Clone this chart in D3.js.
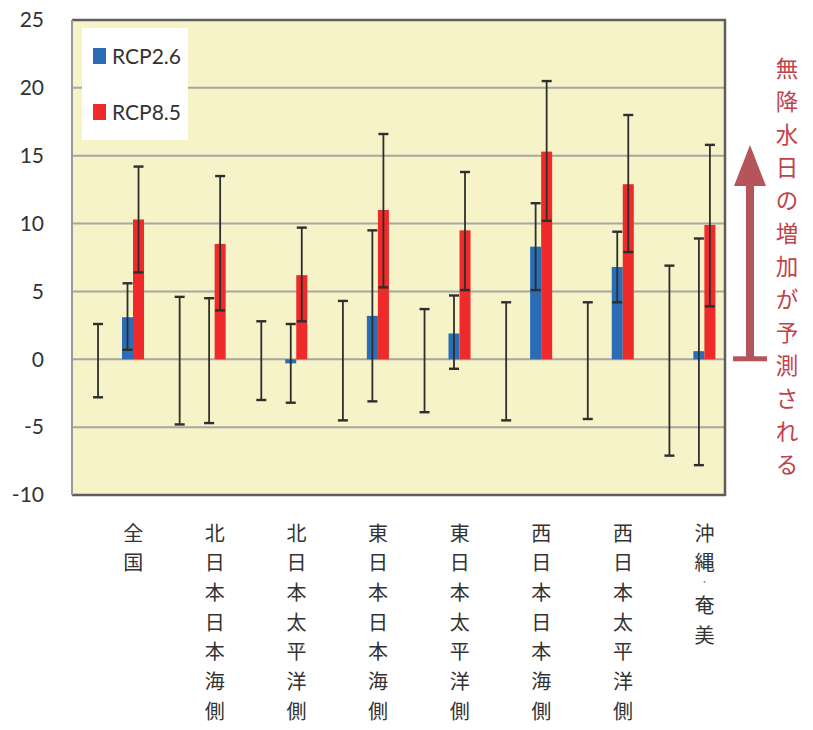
<!DOCTYPE html>
<html>
<head>
<meta charset="utf-8">
<script src="https://cdn.jsdelivr.net/npm/d3@7"></script>
<style>
  body { margin: 0; background: #fff; }
  svg { display: block; }
</style>
</head>
<body>
<div id="chart"></div>
<script>
// regions and values (days)
const regions = ['全国', '北日本日本海側', '北日本太平洋側', '東日本日本海側', '東日本太平洋側', '西日本日本海側', '西日本太平洋側', '沖縄・奄美'];

// present-climate variability range (bar value 0, only the whisker is drawn)
const baseLow  = [-2.8, -4.8, -3.0, -4.5, -3.9, -4.5, -4.4, -7.1];
const baseHigh = [ 2.6,  4.6,  2.8,  4.3,  3.7,  4.2,  4.2,  6.9];

const rcp26     = [3.1,  0.0, -0.3,  3.2,  1.9,  8.3, 6.8,  0.6];
const rcp26Low  = [0.7, -4.7, -3.2, -3.1, -0.7,  5.1, 4.2, -7.8];
const rcp26High = [5.6,  4.5,  2.6,  9.5,  4.7, 11.5, 9.4,  8.9];

const rcp85     = [10.3,  8.5, 6.2, 11.0,  9.5, 15.3, 12.9,  9.9];
const rcp85Low  = [ 6.4,  3.6, 2.8,  5.3,  5.1, 10.2,  7.9,  3.9];
const rcp85High = [14.2, 13.5, 9.7, 16.6, 13.8, 20.5, 18.0, 15.8];

const yTicks = [-10, -5, 0, 5, 10, 15, 20, 25];
const legendItems = ['RCP2.6', 'RCP8.5'];
const note = '無降水日の増加が予測される';

const colors = { rcp26: '#2a6db4', rcp85: '#ee2a2a' };

const width = 813, height = 730;
const plot = { left: 72, right: 725, top: 20, bottom: 495 };

const svg = d3.select('#chart').append('svg')
  .attr('width', width)
  .attr('height', height);

const x = d3.scaleBand().domain(regions).range([plot.left, plot.right]);
const y = d3.scaleLinear().domain([-10, 25]).range([plot.bottom, plot.top]);
const bw = x.bandwidth();
const barW = bw * 0.135;

// position of each series inside a category band
const offBase = bw * 0.319, offBlue = bw * 0.68, offRed = bw * 0.815, offLabel = bw * 0.75;

// plot background
svg.append('rect')
  .attr('x', plot.left).attr('y', plot.top)
  .attr('width', plot.right - plot.left).attr('height', plot.bottom - plot.top)
  .attr('fill', '#f5f3c7');

// gridlines
svg.append('g').selectAll('line')
  .data(yTicks.slice(1, -1))
  .join('line')
  .attr('x1', plot.left).attr('x2', plot.right)
  .attr('y1', d => y(d)).attr('y2', d => y(d))
  .attr('stroke', '#a6a6a2').attr('stroke-width', 2);

// y tick labels
svg.append('g').selectAll('text')
  .data(yTicks)
  .join('text')
  .attr('x', 44).attr('y', d => y(d))
  .attr('dy', '0.35em')
  .attr('text-anchor', 'end')
  .attr('font-family', 'Lato, sans-serif')
  .attr('font-size', 21)
  .attr('fill', '#333')
  .text(d => d);

const rows = regions.map((r, i) => ({
  region: r,
  baseLow: baseLow[i], baseHigh: baseHigh[i],
  rcp26: rcp26[i], rcp26Low: rcp26Low[i], rcp26High: rcp26High[i],
  rcp85: rcp85[i], rcp85Low: rcp85Low[i], rcp85High: rcp85High[i]
}));

// bars
const bars = svg.append('g');
bars.selectAll('rect.b26')
  .data(rows)
  .join('rect')
  .attr('class', 'b26')
  .attr('x', d => x(d.region) + offBlue - barW / 2)
  .attr('width', barW)
  .attr('y', d => y(Math.max(0, d.rcp26)))
  .attr('height', d => Math.abs(y(d.rcp26) - y(0)))
  .attr('fill', colors.rcp26);

bars.selectAll('rect.b85')
  .data(rows)
  .join('rect')
  .attr('class', 'b85')
  .attr('x', d => x(d.region) + offRed - barW / 2)
  .attr('width', barW)
  .attr('y', d => y(Math.max(0, d.rcp85)))
  .attr('height', d => Math.abs(y(d.rcp85) - y(0)))
  .attr('fill', colors.rcp85);

// error bars
const whiskers = [];
rows.forEach(d => {
  whiskers.push({ cx: x(d.region) + offBase, lo: d.baseLow, hi: d.baseHigh });
  whiskers.push({ cx: x(d.region) + offBlue, lo: d.rcp26Low, hi: d.rcp26High });
  whiskers.push({ cx: x(d.region) + offRed, lo: d.rcp85Low, hi: d.rcp85High });
});

const capW = 10;
const wg = svg.append('g')
  .attr('stroke', '#2e2e2e')
  .attr('stroke-width', 1.8);
wg.selectAll('g')
  .data(whiskers)
  .join('g')
  .each(function(d) {
    const g = d3.select(this);
    g.append('line')
      .attr('x1', d.cx).attr('x2', d.cx)
      .attr('y1', y(d.lo)).attr('y2', y(d.hi));
    [d.lo, d.hi].forEach(v => {
      g.append('line')
        .attr('x1', d.cx - capW / 2).attr('x2', d.cx + capW / 2)
        .attr('y1', y(v)).attr('y2', y(v))
        .attr('stroke-width', 2.4);
    });
  });

// frame
svg.append('path')
  .attr('d', `M${plot.left},${plot.top}H${plot.right}V${plot.bottom}H${plot.left}`)
  .attr('fill', 'none')
  .attr('stroke', '#5e5e5e')
  .attr('stroke-width', 2.5);
svg.append('line')
  .attr('x1', plot.left).attr('x2', plot.left)
  .attr('y1', plot.top).attr('y2', plot.bottom)
  .attr('stroke', '#9a9a9a').attr('stroke-width', 2);

// legend
const lg = svg.append('g');
lg.append('rect')
  .attr('x', 82).attr('y', 28).attr('width', 106).attr('height', 112)
  .attr('fill', '#fff');
legendItems.forEach((name, i) => {
  const cy = 56 + i * 56;
  lg.append('rect')
    .attr('x', 93).attr('y', cy - 8).attr('width', 13).attr('height', 16)
    .attr('fill', i === 0 ? colors.rcp26 : colors.rcp85);
  lg.append('text')
    .attr('x', 112).attr('y', cy)
    .attr('dy', '0.36em')
    .attr('font-family', 'Lato, sans-serif')
    .attr('font-size', 21)
    .attr('fill', '#333')
    .text(name);
});

// category labels, one character per line
const labels = svg.append('g')
  .attr('font-family', '"Noto Sans CJK JP", sans-serif')
  .attr('fill', '#333')
  .attr('text-anchor', 'middle');
regions.forEach(r => {
  let cy = 532;
  const chars = Array.from(r);
  chars.forEach((ch, k) => {
    const dot = ch === '・';
    if (dot) cy -= 9.5;
    labels.append('text')
      .attr('x', x(r) + offLabel)
      .attr('y', cy)
      .attr('dominant-baseline', 'central')
      .attr('font-size', dot ? 9 : 20)
      .attr('fill', dot ? '#999' : null)
      .text(ch);
    cy += dot ? 23 : 29.7;
  });
});

// annotation arrow
const arrowColor = '#b5545b';
const ax = 750;
svg.append('rect')
  .attr('x', ax - 4).attr('y', 183).attr('width', 8).attr('height', y(0) - 183)
  .attr('fill', arrowColor);
svg.append('path')
  .attr('d', `M${ax},145L${ax + 16},186L${ax - 16},186Z`)
  .attr('fill', arrowColor);
svg.append('rect')
  .attr('x', 733).attr('y', y(0) - 3).attr('width', 34).attr('height', 5)
  .attr('fill', arrowColor);

// vertical note, one character per line
svg.append('g')
  .attr('font-family', '"Noto Sans CJK JP", sans-serif')
  .attr('font-size', 22.5)
  .attr('fill', '#c0434c')
  .attr('text-anchor', 'middle')
  .selectAll('text')
  .data(Array.from(note))
  .join('text')
  .attr('x', 787)
  .attr('y', (d, i) => 67 + i * 33)
  .attr('dominant-baseline', 'central')
  .text(d => d);
</script>
</body>
</html>
